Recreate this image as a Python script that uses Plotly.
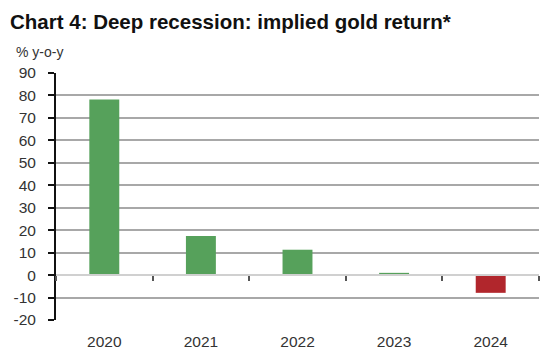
import plotly.graph_objects as go

years = ["2020", "2021", "2022", "2023", "2024"]
returns = [78.2, 17.4, 11.3, 1.0, -7.9]
bar_colors = ["#56a15b", "#56a15b", "#56a15b", "#56a15b", "#b1262c"]
y_ticks = [90, 80, 70, 60, 50, 40, 30, 20, 10, 0, -10, -20]
y_tick_text = [str(v) for v in y_ticks]

fig = go.Figure()
fig.add_trace(go.Bar(x=years, y=returns, marker=dict(color=bar_colors, line=dict(width=0)),
                     width=0.31, xaxis="x", yaxis="y", showlegend=False, hoverinfo="skip"))
fig.add_trace(go.Scatter(x=years, y=[None]*len(years), xaxis="x2", yaxis="y", showlegend=False,
                         mode="markers", hoverinfo="skip"))

font = "Liberation Sans, Arial, sans-serif"
fig.update_layout(
    width=542, height=351,
    margin=dict(l=48, r=11, t=65, b=39, autoexpand=False),
    paper_bgcolor="white", plot_bgcolor="white",
    font=dict(family=font, size=15, color="#333333"),
    xaxis=dict(type="category", categoryarray=years, range=[-0.5, 4.5], showline=False, ticks="",
               showgrid=False, tickfont=dict(size=15.5, color="#333333"), ticklabelstandoff=10,
               automargin=False),
    xaxis2=dict(type="category", categoryarray=years, range=[-0.5, 4.5], overlaying="x", anchor="free",
                position=2/11, showline=True, linecolor="#d0d0d0", linewidth=1.5, ticks="outside",
                tickson="boundaries", ticklen=5, tickcolor="#555555", tickwidth=1.5, showticklabels=False,
                showgrid=False, side="bottom", automargin=False),
    yaxis=dict(range=[-20, 90], tickvals=y_ticks, ticktext=y_tick_text, showgrid=True, gridcolor="#a8a8a8",
               gridwidth=1.5, zeroline=False, showline=True, linecolor="#111111", linewidth=2,
               ticks="outside", ticklen=6, tickcolor="#111111", tickwidth=1.5, ticklabelstandoff=9,
               tickfont=dict(size=15.5, color="#333333"), automargin=False),
    annotations=[
        dict(text="<b>Chart 4: Deep recession: implied gold return*</b>", xref="paper", yref="paper",
             x=-48/483, y=1 + 65/247, xanchor="left", yanchor="top", showarrow=False,
             font=dict(size=20.5, color="#111111", family=font)),
        dict(text="% y-o-y", xref="paper", yref="paper", x=-42/483, y=1 + 21/247,
             xanchor="left", yanchor="middle", showarrow=False,
             font=dict(size=14, color="#333333", family=font)),
    ],
)
fig.write_html("out.html")
